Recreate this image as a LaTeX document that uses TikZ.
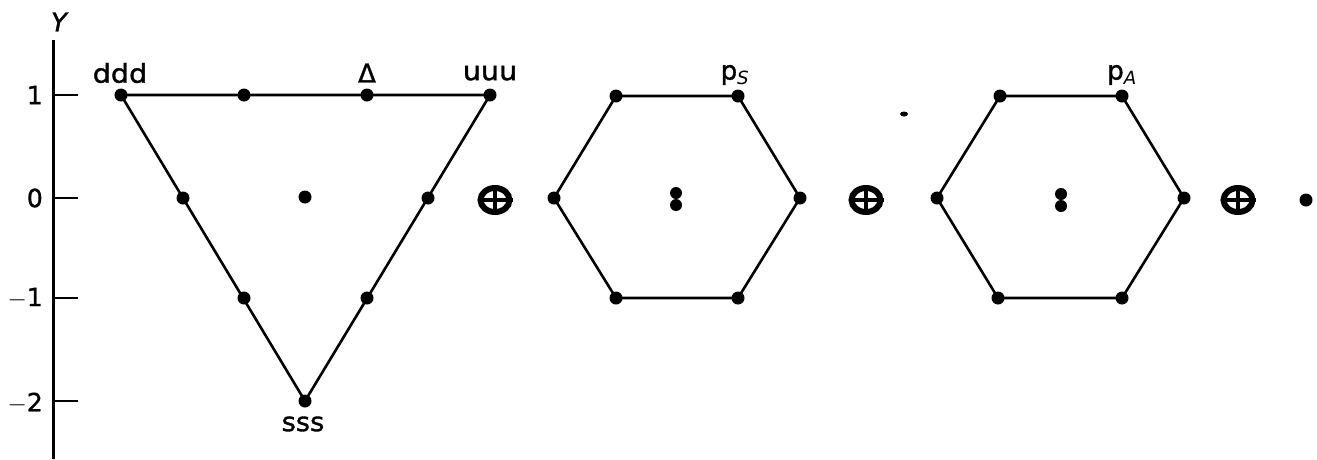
\documentclass[tikz,border=0pt]{standalone}
\usepackage{fontspec}
\setmainfont{DejaVu Sans}
\newfontfamily\lblfont{DejaVu Sans}[FakeBold=1.3]
\usetikzlibrary{shapes.geometric}
\begin{document}
\begin{tikzpicture}[x=1pt,y=-1pt,
  dot/.style={circle,fill=black,inner sep=0pt,minimum size=13pt},
  smalldot/.style={circle,fill=black,inner sep=0pt,minimum size=12pt},
  edge/.style={line width=2.6pt,line join=round},
  axisline/.style={line width=3pt},
  tick/.style={line width=2.6pt},
  ticklabel/.style={anchor=east,inner sep=0pt,font=\lblfont\fontsize{25}{25}\selectfont},
  lbl/.style={inner sep=0pt,font=\lblfont\fontsize{26}{26}\selectfont},
  oplus/.style={ellipse,draw,line width=6pt,inner sep=0pt,minimum width=29pt,minimum height=24pt},
  crossbar/.style={line width=3.4pt}]
\useasboundingbox (0,0) rectangle (1317,459);

% Y axis with its ticks
\coordinate (axtop) at (53,40);
\coordinate (axbot) at (53,459);
\draw[axisline] (axtop) -- (axbot);
\foreach \v/\yy in {1/95,0/198,-1/298,-2/401}{
  \coordinate (t\v) at (53,\yy);
  \coordinate (te\v) at (78,\yy);
  \draw[tick] (t\v) -- (te\v);
}
\node[ticklabel] (l1) at (43,95) {1};
\node[ticklabel] (l0) at (43,198) {0};
\node[ticklabel] (lm1) at (43,298) {$-$1};
\node[ticklabel] (lm2) at (43,403) {$-$2};
\node[lbl,font=\lblfont\fontsize{26}{26}\selectfont\itshape] (Ylab) at (59,22) {Y};

% decuplet triangle
\node[dot] (ddd) at (121,95) {};
\node[dot] (uuu) at (490,95) {};
\node[dot] (sss) at (305,401) {};
\draw[edge] (ddd.center) -- (uuu.center) -- (sss.center) -- cycle;
\node[dot] (d1) at (244,95) {};
\node[dot] (d2) at (367,95) {};
\node[dot] (d3) at (183,198) {};
\node[dot] (d4) at (428,198) {};
\node[dot] (d5) at (244,298) {};
\node[dot] (d6) at (367,298) {};
\node[dot] (d0) at (305,197) {};
\node[lbl,xscale=1.1] (dddlab) at (120,73) {ddd};
\node[lbl,xscale=1.1] (uuulab) at (490,73) {uuu};
\node[lbl] (Dlab) at (367,73) {Δ};
\node[lbl,xscale=1.05] (ssslab) at (303,424) {sss};

\node[oplus] (op1) at (495,200) {};
\draw[crossbar] (op1.north) -- (op1.south) (op1.west) -- (op1.east);

% symmetric octet
\node[dot] (s1) at (616,96) {};
\node[dot] (s2) at (738,96) {};
\node[dot] (s3) at (800,198) {};
\node[dot] (s4) at (738,298) {};
\node[dot] (s5) at (616,298) {};
\node[dot] (s6) at (554,198) {};
\draw[edge] (s1.center) -- (s2.center) -- (s3.center) -- (s4.center) -- (s5.center) -- (s6.center) -- cycle;
\node[smalldot] (sc1) at (676,193) {};
\node[smalldot] (sc2) at (676,205) {};
\node[lbl] (pSlab) at (735,75) {p$_{\mathit{S}}$};

\node[oplus] (op2) at (866,200) {};
\draw[crossbar] (op2.north) -- (op2.south) (op2.west) -- (op2.east);

\node[ellipse,fill=black,inner sep=0pt,minimum width=8pt,minimum height=5pt] (speck) at (904,114) {};

% antisymmetric octet
\node[dot] (a1) at (1000,96) {};
\node[dot] (a2) at (1122,96) {};
\node[dot] (a3) at (1184,198) {};
\node[dot] (a4) at (1122,298) {};
\node[dot] (a5) at (998,298) {};
\node[dot] (a6) at (937,198) {};
\draw[edge] (a1.center) -- (a2.center) -- (a3.center) -- (a4.center) -- (a5.center) -- (a6.center) -- cycle;
\node[smalldot] (ac1) at (1061,194) {};
\node[smalldot] (ac2) at (1061,206) {};
\node[lbl] (pAlab) at (1122,75) {p$_{\mathit{A}}$};

\node[oplus] (op3) at (1238,200) {};
\draw[crossbar] (op3.north) -- (op3.south) (op3.west) -- (op3.east);

% singlet
\node[dot] (singlet) at (1306,200) {};
\end{tikzpicture}
\end{document}
